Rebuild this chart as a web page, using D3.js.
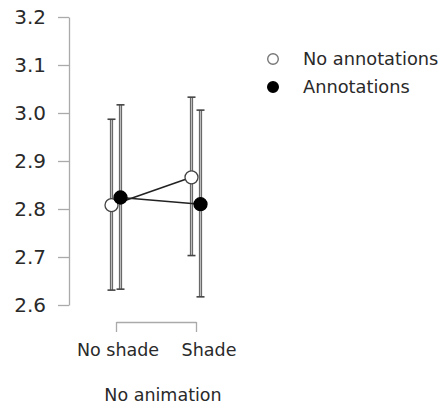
<!DOCTYPE html>
<html><head><meta charset="utf-8">
<script src="https://cdn.jsdelivr.net/npm/d3@7"></script>
<style>body{margin:0;background:#fff}text{font-family:"DejaVu Sans",sans-serif;fill:#2a2a2a}</style>
</head><body><svg id="c" width="446" height="410"></svg>
<script>
const categories = ["No shade", "Shade"];
const groupLabel = "No animation";
const seriesNames = ["No annotations", "Annotations"];
const noAnnMean = [2.808, 2.866];
const noAnnLow = [2.631, 2.703];
const noAnnHigh = [2.987, 3.033];
const annMean = [2.824, 2.810];
const annLow = [2.633, 2.617];
const annHigh = [3.017, 3.006];
const yTicks = [2.6, 2.7, 2.8, 2.9, 3.0, 3.1, 3.2];

const svg = d3.select("#c");
const y = d3.scaleLinear().domain([2.6, 3.2]).range([305, 17]);
const x = d3.scalePoint().domain(categories).range([116, 196]);
const offset = d3.scaleOrdinal().domain(seriesNames).range([-4.5, 4.5]);

// y axis
const ya = svg.append("g").attr("transform", "translate(69,0)")
  .call(d3.axisLeft(y).tickValues(yTicks).tickFormat(d3.format(".1f")).tickSize(11).tickPadding(12).tickSizeOuter(0));
ya.select(".domain").attr("stroke", "#aaa").attr("stroke-width", 1.3);
ya.selectAll(".tick line").attr("stroke", "#aaa").attr("stroke-width", 1.3);
ya.selectAll(".tick text").attr("font-size", 20).attr("fill", "#2a2a2a").attr("font-family", "DejaVu Sans");

// x axis bracket
const xa = svg.append("g").attr("transform", "translate(0,322)")
  .call(d3.axisBottom(x).tickSize(10).tickSizeOuter(0).tickFormat(""));
xa.select(".domain").attr("stroke", "#aaa").attr("stroke-width", 1.3);
xa.selectAll(".tick line").attr("stroke", "#aaa").attr("stroke-width", 1.3);
const labelX = {"No shade": 118, "Shade": 209};
svg.selectAll(".xl").data(categories).enter().append("text")
  .attr("x", d => labelX[d]).attr("y", 356).attr("text-anchor", "middle")
  .attr("font-size", 17.5).text(d => d);
svg.append("text").attr("x", 163).attr("y", 401).attr("text-anchor", "middle")
  .attr("font-size", 17.5).text(groupLabel);

const series = [
  {name: seriesNames[0], mean: noAnnMean, low: noAnnLow, high: noAnnHigh, fill: "#fff"},
  {name: seriesNames[1], mean: annMean, low: annLow, high: annHigh, fill: "#000"}
];
const px = (s, i) => x(categories[i]) + offset(s.name);

// error bars
series.forEach(s => {
  const g = svg.append("g");
  categories.forEach((c, i) => {
    const cx = px(s, i);
    g.append("line").attr("x1", cx).attr("x2", cx).attr("y1", y(s.high[i])).attr("y2", y(s.low[i]))
      .attr("stroke", "#555").attr("stroke-width", 3.2);
    g.append("line").attr("x1", cx).attr("x2", cx).attr("y1", y(s.high[i])).attr("y2", y(s.low[i]))
      .attr("stroke", "#bbb").attr("stroke-width", 1.4);
    [s.high[i], s.low[i]].forEach(v => g.append("line").attr("x1", cx - 4).attr("x2", cx + 4)
      .attr("y1", y(v)).attr("y2", y(v)).attr("stroke", "#444").attr("stroke-width", 1.6));
  });
});
// connecting lines
series.forEach(s => {
  svg.append("path").attr("d", d3.line()(categories.map((c, i) => [px(s, i), y(s.mean[i])])))
    .attr("stroke", "#222").attr("stroke-width", 1.6).attr("fill", "none");
});
// points
series.forEach(s => {
  svg.selectAll(null).data(categories).enter().append("circle")
    .attr("cx", (c, i) => px(s, i)).attr("cy", (c, i) => y(s.mean[i])).attr("r", 6.5)
    .attr("fill", s.fill).attr("stroke", s.fill === "#fff" ? "#444" : "#000").attr("stroke-width", 1.3);
});

// legend
const lg = svg.append("g");
series.forEach((s, i) => {
  const ly = 59 + i * 28;
  lg.append("circle").attr("cx", 273).attr("cy", ly).attr("r", 5.3)
    .attr("fill", s.fill).attr("stroke", s.fill === "#fff" ? "#777" : "#000").attr("stroke-width", 1.4);
  lg.append("text").attr("x", 303).attr("y", ly + 6).attr("font-size", 17.8).text(s.name);
});
</script></body></html>
